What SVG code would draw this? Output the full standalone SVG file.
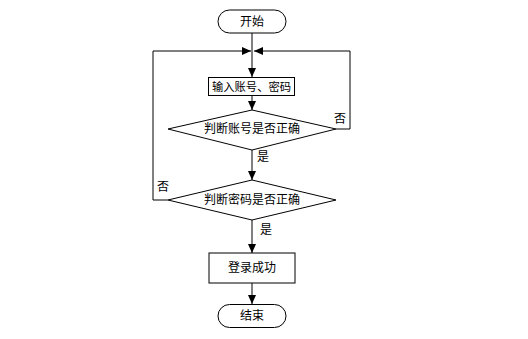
<svg xmlns="http://www.w3.org/2000/svg" width="528" height="339" viewBox="0 0 528 339">
<style>
.n{fill:#fff;stroke:#000;stroke-width:1}
.c{fill:none;stroke:#000;stroke-width:1}
text{font-family:"Liberation Sans","Noto Sans CJK SC",sans-serif;font-size:12px;fill:#000;text-anchor:middle;dominant-baseline:central}
</style>
<defs>
<marker id="a" markerUnits="userSpaceOnUse" markerWidth="10" markerHeight="8" refX="9" refY="4" orient="auto"><path d="M0,0L9,4L0,8Z" fill="#000"/></marker>
</defs>
<rect width="528" height="339" fill="#fff"/>
<g id="connectors">
<path class="c" d="M252,33V77" marker-end="url(#a)"/>
<path class="c" d="M252,96V110" marker-end="url(#a)"/>
<path class="c" d="M252,150V180" marker-end="url(#a)"/>
<path class="c" d="M252,220V253" marker-end="url(#a)"/>
<path class="c" d="M252,283V304" marker-end="url(#a)"/>
<path class="c" d="M168,200H153V51H251" marker-end="url(#a)"/>
<path class="c" d="M336,129H350V51H254" marker-end="url(#a)"/>
<text x="340" y="119">否</text>
<text x="263" y="157">是</text>
<text x="163" y="187">否</text>
<text x="266" y="230">是</text>
</g>
<g id="start"><rect class="n" x="218" y="10" width="68" height="23" rx="11.5"/><text x="252" y="21.5">开始</text></g>
<g id="input"><rect class="n" x="208.5" y="77.5" width="86" height="18"/><text x="251.5" y="86.5" style="font-size:11.3px">输入账号、密码</text></g>
<g id="check-account"><path class="n" d="M168,129L252,110L336,129L252,150Z"/><text x="252" y="129">判断账号是否正确</text></g>
<g id="check-password"><path class="n" d="M168,200L252,180L336,200L252,220Z"/><text x="252" y="200">判断密码是否正确</text></g>
<g id="success"><rect class="n" x="209" y="253" width="86" height="30"/><text x="252" y="268">登录成功</text></g>
<g id="end"><rect class="n" x="218" y="304.5" width="68" height="23" rx="11.5"/><text x="252" y="316">结束</text></g>
</svg>
